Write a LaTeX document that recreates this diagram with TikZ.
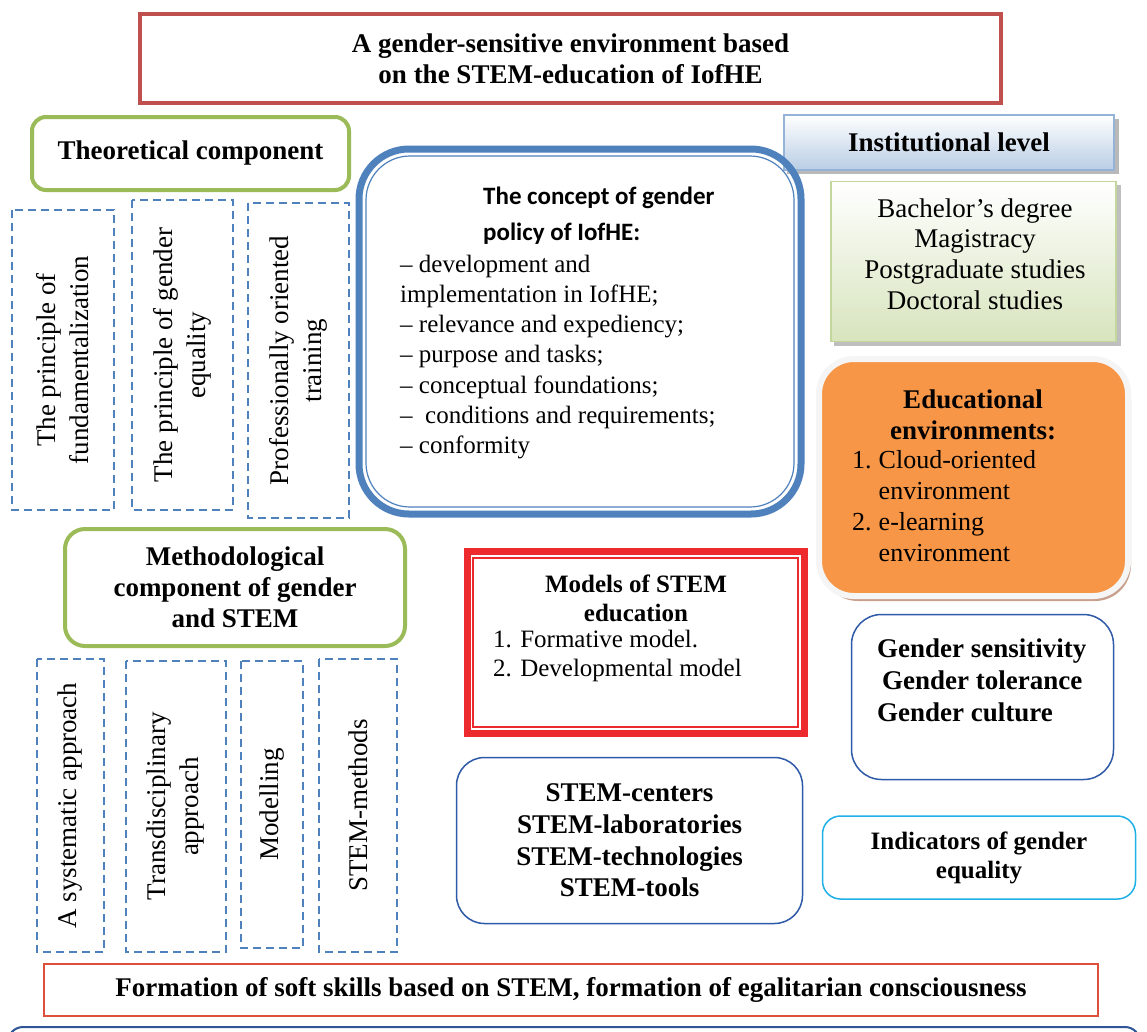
\documentclass[tikz,border=0pt]{standalone}
\usepackage{fontspec}
\setmainfont{Liberation Serif}
\newfontfamily\calibrifont{Carlito}
\newcommand\myfs[2]{\fontsize{#1}{#2}\selectfont}
\definecolor{titlered}{RGB}{192,80,77}
\definecolor{ogreen}{RGB}{155,187,89}
\definecolor{dblue}{RGB}{79,129,189}
\definecolor{instborder}{RGB}{149,179,215}
\definecolor{instfill}{RGB}{185,205,229}
\definecolor{degborder}{RGB}{195,214,155}
\definecolor{degfill}{RGB}{215,228,189}
\definecolor{modred}{RGB}{237,43,46}
\definecolor{orangefill}{RGB}{247,150,70}
\definecolor{orangeshadow}{RGB}{200,160,140}
\definecolor{navyline}{RGB}{47,90,168}
\definecolor{cyanline}{RGB}{30,176,230}
\definecolor{formred}{RGB}{220,80,60}
\definecolor{botblue}{RGB}{47,85,151}
\begin{document}
\begin{tikzpicture}[x=1pt,y=-1pt,
  every node/.style={inner sep=0pt},
  dashbox/.style={draw=dblue, line width=1.8pt, dash pattern=on 8pt off 5pt, rotate=90, align=center, font=\myfs{27}{33}},
  greenbox/.style={draw=ogreen, line width=4pt, font=\bfseries\myfs{27}{31}, align=center},
  thinbox/.style={line width=1.5pt},
  head/.style={font=\bfseries\myfs{27}{31}, align=center}
]
\useasboundingbox (0,0) rectangle (1147,1031);
\fill[white] (0,0) rectangle (1147,1031);

% title
\node[draw=titlered, line width=4pt, minimum width=861pt, minimum height=89pt, head] (title) at (570.5,58.5) {A gender-sensitive environment based\\on the STEM-education of IofHE};

% theoretical
\node[greenbox, rounded corners=14pt, minimum width=317pt, minimum height=73pt] (theor) at (190.5,153.5) {Theoretical component};

% institutional level
\fill[gray!55] (787,119) rectangle (1119,174);
\node[draw=instborder, line width=1.5pt, top color=white, bottom color=instfill, minimum width=330pt, minimum height=55pt, head] (inst) at (949,142.5) {Institutional level};

% degrees
\fill[gray!50] (834,185) rectangle (1121,346);
\node[draw=degborder, line width=1.5pt, top color=white, bottom color=degfill, minimum width=285pt, minimum height=160pt] (deg) at (973.5,261.5) {};
\node[font=\myfs{27}{30.7}, align=center] (degtext) at (975,254) {Bachelor’s degree\\Magistracy\\Postgraduate studies\\Doctoral studies};

% concept
\node[draw=dblue, line width=7pt, rounded corners=50pt, minimum width=442pt, minimum height=365pt] (concept) at (580,331.5) {};
\node[draw=dblue, line width=1.2pt, rounded corners=44pt, minimum width=428pt, minimum height=351pt] (conceptin) at (580,331.5) {};
\node[anchor=west, font=\calibrifont\bfseries\myfs{25}{36}, align=left] (conhead) at (483,216) {The concept of gender\\policy of IofHE:};
\node[anchor=west, font=\myfs{25}{30.2}, align=left] (conbody) at (400,357) {– development and\\implementation in IofHE;\\– relevance and expediency;\\– purpose and tasks;\\– conceptual foundations;\\–\ \ conditions and requirements;\\– conformity};

% theoretical dashed boxes
\node[dashbox, minimum width=300pt, minimum height=102pt] (p1) at (63,360) {The principle of\\fundamentalization};
\node[dashbox, minimum width=310pt, minimum height=101pt] (p2) at (182.5,355) {The principle of gender\\equality};
\node[dashbox, minimum width=315pt, minimum height=101pt] (p3) at (298.5,360.5) {Professionally oriented\\training};

% methodological
\node[greenbox, rounded corners=20pt, minimum width=340pt, minimum height=117pt] (meth) at (235,587.5) {Methodological\\component of gender\\and STEM};

% methodological dashed boxes
\node[dashbox, minimum width=293pt, minimum height=67pt] (b1) at (70.5,805.5) {A systematic approach};
\node[dashbox, minimum width=291pt, minimum height=100pt] (b2) at (176,806.5) {Transdisciplinary\\approach};
\node[dashbox, minimum width=287pt, minimum height=62pt] (b3) at (272,804.5) {Modelling};
\node[dashbox, minimum width=293pt, minimum height=78pt] (b4) at (358,805.5) {STEM-methods};

% models
\node[draw=modred, line width=7pt, minimum width=337pt, minimum height=182pt] (models) at (636,642.5) {};
\node[draw=modred, line width=1.5pt, minimum width=325pt, minimum height=169pt] (modelsin) at (635.5,642.5) {};
\node[font=\bfseries\myfs{25}{29}, align=center] (modhead) at (636,598.5) {Models of STEM\\education};
\node[anchor=west, font=\myfs{25}{29}, align=left] (modlist) at (493,655.5) {1. Formative model.\\2. Developmental model};

% educational environments
\fill[orangeshadow, rounded corners=36pt] (822,364) rectangle (1131,601);
\node[draw=gray!8, line width=6pt, fill=orangefill, rounded corners=35pt, minimum width=309pt, minimum height=237pt] (edu) at (973.5,477.5) {};
\node[head] (eduhead) at (973,415) {Educational\\environments:};
\node[anchor=west, font=\myfs{26}{31}] (edulist) at (852,509) {\begin{tabular}{@{}l@{\hspace{7pt}}l@{}}1. & Cloud-oriented\\ & environment\\2. & e-learning\\ & environment\end{tabular}};

% gender sensitivity
\node[draw=navyline, thinbox, rounded corners=30pt, minimum width=262pt, minimum height=165pt] (gs) at (982.5,697) {};
\node[anchor=west, font=\bfseries\myfs{27}{32}, align=left] (gstext) at (877,680) {Gender sensitivity\\\hspace*{5pt}Gender tolerance\\Gender culture};

% indicators
\node[draw=cyanline, thinbox, rounded corners=18pt, minimum width=313pt, minimum height=83pt, font=\bfseries\myfs{25}{29}, align=center] (ind) at (979,857.5) {Indicators of gender\\equality};

% STEM centers
\node[draw=navyline, thinbox, rounded corners=28pt, minimum width=346pt, minimum height=166pt, font=\bfseries\myfs{27}{31.7}, align=center] (stem) at (629.5,840.5) {STEM-centers\\STEM-laboratories\\STEM-technologies\\STEM-tools};

% formation
\node[draw=formred, thinbox, minimum width=1054pt, minimum height=52pt, head] (form) at (571,990) {Formation of soft skills based on STEM, formation of egalitarian consciousness};

% cut-off bottom box
\begin{scope}
\clip (0,0) rectangle (1147,1031);
\node[draw=botblue, line width=2pt, rounded corners=15pt, minimum width=1132pt, minimum height=80pt] (bottombox) at (574,1067) {};
\end{scope}
\end{tikzpicture}
\end{document}
